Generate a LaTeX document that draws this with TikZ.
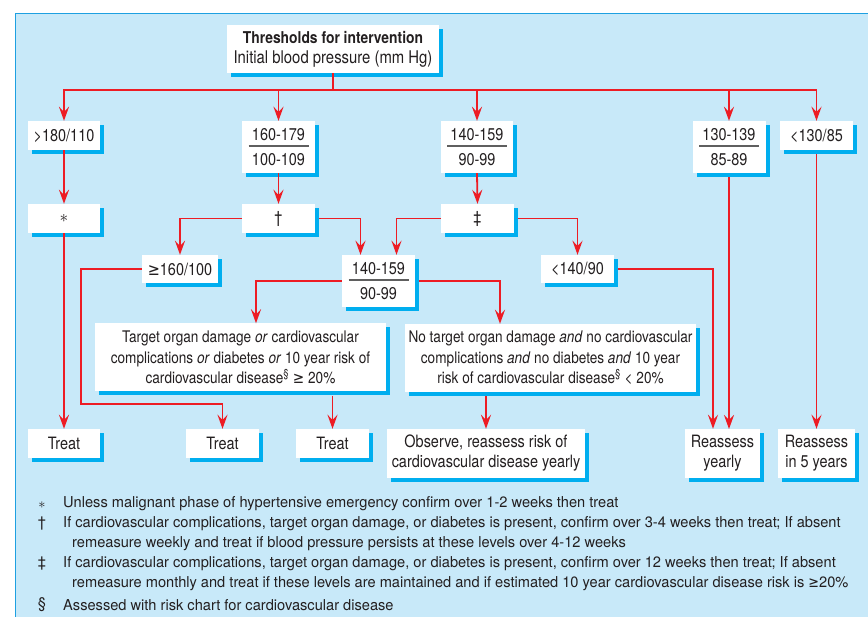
\documentclass[tikz,border=0pt]{standalone}
\usepackage{fontspec}
\setmainfont{TeX Gyre Heros}[FakeStretch=0.85]
\newfontfamily\notefam{TeX Gyre Heros}[FakeStretch=0.975]
\newfontfamily\symf{DejaVu Sans}[FakeStretch=0.85]
\usetikzlibrary{arrows.meta,shadows}
\definecolor{panel}{RGB}{200,233,249}
\definecolor{panelline}{RGB}{30,160,225}
\definecolor{shadowc}{RGB}{0,174,239}
\definecolor{redline}{RGB}{237,28,36}
\definecolor{txt}{RGB}{35,31,32}
\definecolor{rulegray}{RGB}{95,95,95}
\newcommand{\frc}[2]{\begin{tabular}{@{}c@{}}\rule{0pt}{18pt}#1\\[-9.5pt]\textcolor{rulegray}{\rule[0.5ex]{60pt}{1.5pt}}\\[-6pt]#2\end{tabular}}
\newcommand{\nodefont}{\fontsize{17}{20}\selectfont}
\newcommand{\notefont}{\notefam\fontsize{15}{20}\selectfont}
\newcommand{\geqs}{{\symf ≥}}
\tikzset{
  box/.style={fill=white, draw=none, inner sep=0pt, align=center, text=txt, font=\nodefont,
    drop shadow={shadow xshift=4pt, shadow yshift=-4pt, fill=shadowc, opacity=1}},
  conn/.style={draw=redline, line width=1.8pt},
  arr/.style={conn, -{Stealth[length=14pt,width=10pt,inset=5pt]}},
  note/.style={anchor=west, inner sep=0pt, align=left, text=txt, font=\notefont},
  sym/.style={inner sep=0pt, text=txt, font=\notefont}
}
\begin{document}
\begin{tikzpicture}[x=1pt,y=-1pt]
\useasboundingbox (0,0) rectangle (868,617);
\fill[white] (0,0) rectangle (868,617);
\fill[panel] (15,13.3) rectangle (868,617);
\draw[panelline, line width=1pt] (15,617) -- (15,13.3) -- (868,13.3);

% nodes
\node[box, minimum width=212, minimum height=48, font=\fontsize{17.5}{20}\selectfont] (title) at (333,49)
  {{\fontsize{16.3}{20}\selectfont\bfseries Thresholds for intervention}\\Initial blood pressure (mm Hg)};
\node[box, minimum width=72, minimum height=29] (b180) at (64,135.5) {>180/110};
\node[box, minimum width=73, minimum height=52] (f160) at (278.5,147) {\frc{160-179}{100-109}};
\node[box, minimum width=72, minimum height=52] (f140) at (477,147) {\frc{140-159}{90-99}};
\node[box, minimum width=73, minimum height=52] (hi130) at (729,147) {\frc{130-139}{85-89}};
\node[box, minimum width=73, minimum height=29] (b130) at (816.5,135.5) {<130/85};

\node[box, minimum width=72, minimum height=29] (star) at (64,218.5) {$\ast$};
\node[box, minimum width=73, minimum height=29] (dag) at (278.5,218.5) {\dag};
\node[box, minimum width=73, minimum height=29] (ddag) at (477.5,218.5) {\ddag};

\node[box, minimum width=76, minimum height=28] (ge160) at (180,269) {\geqs160/100};
\node[box, minimum width=73, minimum height=52] (m140) at (378.5,281) {\frc{140-159}{90-99}};
\node[box, minimum width=73, minimum height=28] (lt140) at (577.5,269) {<140/90};

\node[box, minimum width=291, minimum height=68, font=\fontsize{16}{20.5}\selectfont] (target) at (240.5,357.5)
  {Target organ damage \textit{or} cardiovascular\\complications \textit{or} diabetes \textit{or} 10 year risk of\\cardiovascular disease\textsuperscript{\S} \geqs\ 20\%};
\node[box, minimum width=291, minimum height=68, font=\fontsize{16}{20.5}\selectfont] (notarget) at (550.5,358)
  {No target organ damage \textit{and} no cardiovascular\\complications \textit{and} no diabetes \textit{and} 10 year\\risk of cardiovascular disease\textsuperscript{\S} < 20\%};

\node[box, minimum width=72, minimum height=29] (treat1) at (64,443.5) {Treat};
\node[box, minimum width=73, minimum height=29] (treat2) at (222.5,443.5) {Treat};
\node[box, minimum width=73, minimum height=29] (treat3) at (332.5,443.5) {Treat};
\node[box, minimum width=198, minimum height=49] (observe) at (486,453.5)
  {Observe, reassess risk of\\cardiovascular disease yearly};
\node[box, minimum width=75, minimum height=49] (ry) at (722.5,453.5) {Reassess\\yearly};
\node[box, minimum width=77, minimum height=49] (r5) at (816.5,453.5) {Reassess\\in 5 years};

% connectors
\coordinate (bus) at (333,90);
\draw[conn] (title.south) -- (bus);
\draw[arr] (bus) -| (b180.north);
\draw[arr] (bus) -| (f160.north);
\draw[arr] (bus) -| (f140.north);
\draw[arr] (bus) -| (b130.north);
\draw[arr] (bus) -| (hi130.north);

\draw[arr] (b180.south) -- (star.north);
\draw[arr] (star.south) -- (treat1.north);
\draw[arr] (f160.south) -- (dag.north);
\draw[arr] (f140.south) -- (ddag.north);

\draw[arr] ([xshift=4pt]dag.east) -| ([xshift=-18pt]m140.north);
\draw[arr] (dag.west) -| (ge160.north);
\draw[arr] (ddag.west) -| ([xshift=18pt]m140.north);
\draw[arr] ([xshift=4pt]ddag.east) -| (lt140.north);

\draw[arr] (m140.west) -| ([xshift=15.5pt]target.north);
\draw[arr] ([xshift=4pt]m140.east) -| ([xshift=-50.5pt]notarget.north);

\coordinate (gl) at (81,404);
\draw[arr] (ge160.west) -| (gl) -| (treat2.north);
\draw[arr] ([yshift=-4pt]treat3.north |- target.south) -- (treat3.north);
\draw[arr] ([yshift=-4pt]observe.north |- notarget.south) -- (observe.north);
\draw[arr] ([xshift=4pt]lt140.east) -| ([xshift=-9.5pt]ry.north);
\coordinate (ryin) at (729,429);
\draw[arr] ([yshift=-4pt]hi130.south) -- (ryin);
\draw[arr] ([yshift=-4pt]b130.south) -- (r5.north);

% footnotes
\node[sym] (s1) at (42,505) {$\ast$};
\node[note] (n1) at (63,504) {Unless malignant phase of hypertensive emergency confirm over 1-2 weeks then treat};
\node[sym] (s2) at (42,524) {\dag};
\node[note] (n2) at (63,534) {If cardiovascular complications, target organ damage, or diabetes is present, confirm over 3-4 weeks then treat; If absent\\\hspace*{9pt}remeasure weekly and treat if blood pressure persists at these levels over 4-12 weeks};
\node[sym] (s3) at (42,564) {\ddag};
\node[note] (n3) at (63,574) {If cardiovascular complications, target organ damage, or diabetes is present, confirm over 12 weeks then treat; If absent\\\hspace*{9pt}remeasure monthly and treat if these levels are maintained and if estimated 10 year cardiovascular disease risk is \geqs20\%};
\node[sym] (s4) at (42,605) {\S};
\node[note] (n4) at (63,605) {Assessed with risk chart for cardiovascular disease};
\end{tikzpicture}
\end{document}
